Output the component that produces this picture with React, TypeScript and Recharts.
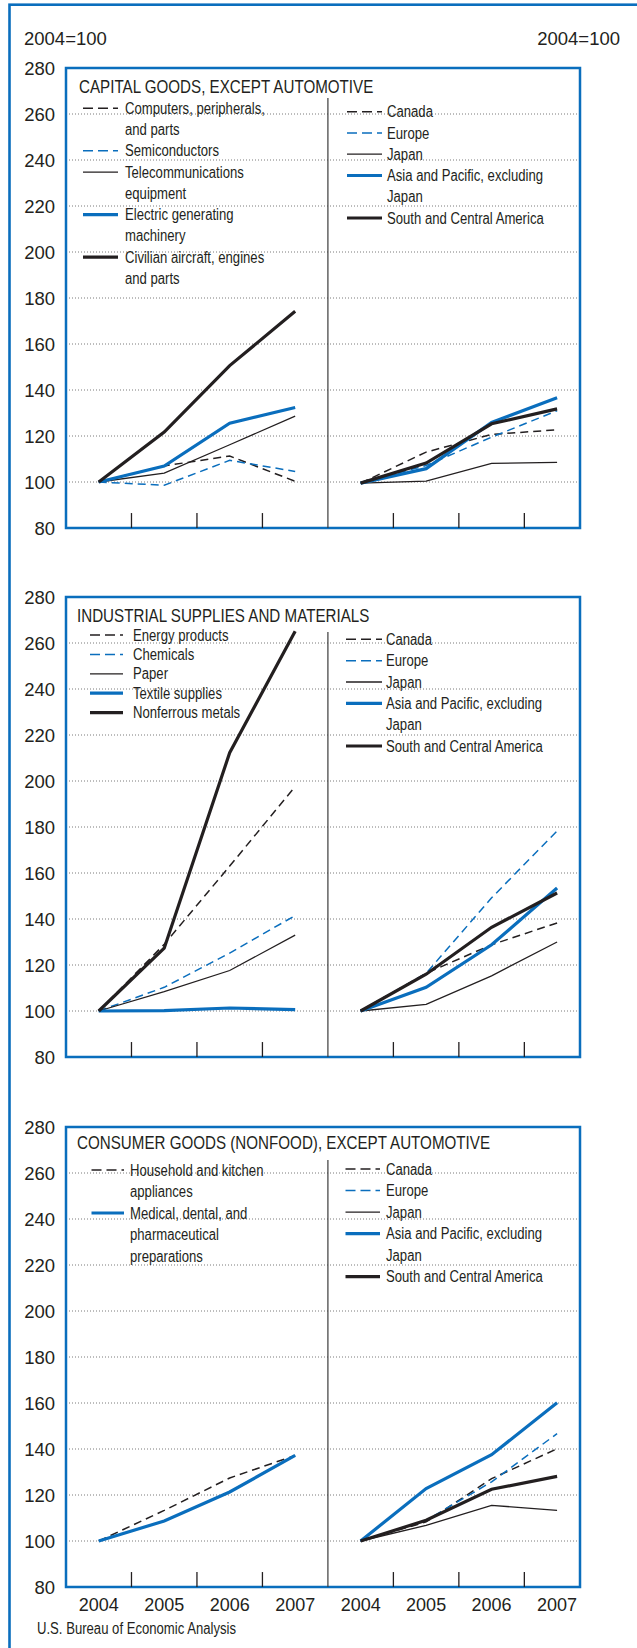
import React from 'react';
import {
  LineChart,
  Line,
  XAxis,
  YAxis,
  CartesianGrid,
  ReferenceArea,
  ReferenceLine,
} from 'recharts';

// ---------- data ----------
const years = ['2004', '2005', '2006', '2007'];
const yTicks = [80, 100, 120, 140, 160, 180, 200, 220, 240, 260, 280];

// Panel 1: Capital goods, except automotive
const capComputers = [100, 107, 111.3, 100.3];
const capSemis = [100, 98.6, 109.4, 104.6];
const capTelecom = [100, 103.9, 116.2, 128.6];
const capElectric = [100, 106.9, 125.6, 132.4];
const capAircraft = [100, 121.7, 150.6, 174.2];
const capCanada = [99.5, 113, 120.7, 122.7];
const capEurope = [99.5, 107.2, 119.5, 131];
const capJapan = [99.5, 100.4, 108.1, 108.5];
const capAsia = [99.5, 105.8, 125.9, 136.6];
const capSouth = [99.5, 108.2, 125.3, 131.8];

// Panel 2: Industrial supplies and materials
const indEnergy = [100, 129, 163, 197.6];
const indChemicals = [100, 110.3, 125.2, 141.5];
const indPaper = [100, 108.4, 117.6, 133];
const indTextile = [100, 100.2, 101.3, 100.6];
const indNonferrous = [100, 127.3, 212.3, 265.1];
const indCanada = [100, 116.4, 128.8, 138.3];
const indEurope = [100, 116.4, 149.2, 178.3];
const indJapan = [100, 102.9, 115.3, 130];
const indAsia = [100, 110.3, 128.8, 153.5];
const indSouth = [100, 116, 136.4, 151.3];

// Panel 3: Consumer goods (nonfood), except automotive
const conHousehold = [100, 113.3, 127.4, 137.2];
const conMedical = [100, 108.7, 121.3, 137.2];
const conCanada = [100, 108.3, 127.1, 140.1];
const conEurope = [100, 109, 125.7, 146.7];
const conJapan = [100, 106.8, 115.5, 113.3];
const conAsia = [100, 122.8, 137.5, 160.1];
const conSouth = [100, 109, 122.5, 128.1];

// ---------- styling ----------
const FONT = '"Liberation Sans", Arial, Helvetica, sans-serif';
const INK = '#231f20';
const BLUE = '#0a6ebd';
const GRID = '#7a7a7a';

type StyleKey = 'dashBlack' | 'dashBlue' | 'thinBlack' | 'thickBlue' | 'thickBlack';
const lineStyles: Record<StyleKey, { stroke: string; width: number; dash?: string }> = {
  dashBlack: { stroke: INK, width: 1.5, dash: '8 5' },
  dashBlue: { stroke: BLUE, width: 1.5, dash: '8 5' },
  thinBlack: { stroke: INK, width: 1.3 },
  thickBlue: { stroke: BLUE, width: 3.2 },
  thickBlack: { stroke: INK, width: 3.2 },
};

type Series = { key: string; label: string[]; style: StyleKey; values: number[] };

const regionLabels: string[][] = [
  ['Canada'],
  ['Europe'],
  ['Japan'],
  ['Asia and Pacific, excluding', 'Japan'],
  ['South and Central America'],
];
const regionStyles: StyleKey[] = ['dashBlack', 'dashBlue', 'thinBlack', 'thickBlue', 'thickBlack'];

const mkRegions = (prefix: string, vals: number[][]): Series[] =>
  vals.map((v, i) => ({ key: `${prefix}R${i}`, label: regionLabels[i], style: regionStyles[i], values: v }));

type Legend = { lx1: number; lx2: number; tx: number; y0: number; step: number };
type Panel = {
  title: string;
  top: number;
  titleX: number;
  titleY: number;
  dividerTop: number;
  left: Series[];
  right: Series[];
  legL: Legend;
  legR: Legend;
  showYears: boolean;
};

const panels: Panel[] = [
  {
    title: 'CAPITAL GOODS, EXCEPT AUTOMOTIVE',
    top: 68,
    titleX: 79,
    titleY: 87,
    dividerTop: 267,
    left: [
      { key: 'c0', label: ['Computers, peripherals,', 'and parts'], style: 'dashBlack', values: capComputers },
      { key: 'c1', label: ['Semiconductors'], style: 'dashBlue', values: capSemis },
      { key: 'c2', label: ['Telecommunications', 'equipment'], style: 'thinBlack', values: capTelecom },
      { key: 'c3', label: ['Electric generating', 'machinery'], style: 'thickBlue', values: capElectric },
      { key: 'c4', label: ['Civilian aircraft, engines', 'and parts'], style: 'thickBlack', values: capAircraft },
    ],
    right: mkRegions('c', [capCanada, capEurope, capJapan, capAsia, capSouth]),
    legL: { lx1: 83, lx2: 118, tx: 125, y0: 108.3, step: 21.25 },
    legR: { lx1: 347, lx2: 382, tx: 387, y0: 111.7, step: 21.26 },
    showYears: false,
  },
  {
    title: 'INDUSTRIAL SUPPLIES AND MATERIALS',
    top: 597,
    titleX: 77,
    titleY: 616,
    dividerTop: 264.8,
    left: [
      { key: 'i0', label: ['Energy products'], style: 'dashBlack', values: indEnergy },
      { key: 'i1', label: ['Chemicals'], style: 'dashBlue', values: indChemicals },
      { key: 'i2', label: ['Paper'], style: 'thinBlack', values: indPaper },
      { key: 'i3', label: ['Textile supplies'], style: 'thickBlue', values: indTextile },
      { key: 'i4', label: ['Nonferrous metals'], style: 'thickBlack', values: indNonferrous },
    ],
    right: mkRegions('i', [indCanada, indEurope, indJapan, indAsia, indSouth]),
    legL: { lx1: 90, lx2: 123, tx: 133, y0: 635, step: 19.4 },
    legR: { lx1: 346, lx2: 382, tx: 386, y0: 639.3, step: 21.34 },
    showYears: false,
  },
  {
    title: 'CONSUMER GOODS (NONFOOD), EXCEPT AUTOMOTIVE',
    top: 1127,
    titleX: 77,
    titleY: 1142.7,
    dividerTop: 265.7,
    left: [
      { key: 'n0', label: ['Household and kitchen', 'appliances'], style: 'dashBlack', values: conHousehold },
      { key: 'n1', label: ['Medical, dental, and', 'pharmaceutical', 'preparations'], style: 'thickBlue', values: conMedical },
    ],
    right: mkRegions('n', [conCanada, conEurope, conJapan, conAsia, conSouth]),
    legL: { lx1: 91.5, lx2: 124, tx: 130, y0: 1170, step: 21.5 },
    legR: { lx1: 345.5, lx2: 380, tx: 386, y0: 1169, step: 21.54 },
    showYears: true,
  },
];

// ---------- geometry ----------
const PLOT_H = 460;
const CHART_TOP_PAD = 40;
const CHART_H = CHART_TOP_PAD + PLOT_H + 60;
const X_DOMAIN: [number, number] = [-0.5, 7.35];
const xTickIdx = [0, 1, 2, 3, 4, 5, 6, 7];
const sepTicks = [0.5, 1.5, 2.5, 4.5, 5.5, 6.5];

const buildRows = (p: Panel) => {
  const rows: Record<string, number | null>[] = [];
  for (let i = 0; i < 8; i++) {
    const row: Record<string, number | null> = { x: i };
    p.left.forEach((s) => (row[s.key] = i < 4 ? s.values[i] : null));
    p.right.forEach((s) => (row[s.key] = i >= 4 ? s.values[i - 4] : null));
    rows.push(row);
  }
  return rows;
};

const axisTick = { fontFamily: FONT, fontSize: 18.5, fill: INK };

const PanelChart = ({ p }: { p: Panel }) => {
  const data = buildRows(p);
  const all = [...p.left, ...p.right];
  return (
    <div style={{ position: 'absolute', left: 0, top: p.top - CHART_TOP_PAD }}>
      <LineChart
        width={637}
        height={CHART_H}
        data={data}
        margin={{ top: CHART_TOP_PAD, right: 7, bottom: 30, left: 16 }}
      >
        <CartesianGrid vertical={false} stroke={GRID} strokeDasharray="1 2" strokeWidth={1} />
        <XAxis
          dataKey="x"
          type="number"
          domain={X_DOMAIN}
          ticks={xTickIdx}
          interval={0}
          allowDataOverflow
          axisLine={false}
          tickLine={false}
          tickSize={0}
          tickMargin={11.5}
          height={30}
          tick={p.showYears ? { fontFamily: FONT, fontSize: 18, fill: INK } : false}
          tickFormatter={(v: number) => years[v % 4]}
        />
        <YAxis
          domain={[80, 280]}
          ticks={yTicks}
          interval={0}
          axisLine={false}
          tickLine={false}
          tickSize={0}
          tickMargin={11}
          width={50}
          tick={axisTick}
        />
        <YAxis
          yAxisId="r"
          orientation="right"
          domain={[80, 280]}
          ticks={yTicks}
          interval={0}
          axisLine={false}
          tickLine={false}
          tickSize={0}
          tickMargin={8}
          width={50}
          tick={axisTick}
        />
        {all.map((s) => {
          const st = lineStyles[s.style];
          return (
            <Line
              key={s.key}
              dataKey={s.key}
              type="linear"
              stroke={st.stroke}
              strokeWidth={st.width}
              strokeDasharray={st.dash}
              dot={false}
              activeDot={false}
              connectNulls={false}
              isAnimationActive={false}
            />
          );
        })}
        {sepTicks.map((t) => (
          <ReferenceLine
            key={`t${t}`}
            segment={[
              { x: t, y: 80 },
              { x: t, y: 86.5 },
            ]}
            stroke={INK}
            strokeWidth={1.3}
          />
        ))}
        <ReferenceLine
          segment={[
            { x: 3.5, y: 80 },
            { x: 3.5, y: p.dividerTop },
          ]}
          stroke="#3a3a3a"
          strokeWidth={1.2}
        />
        <ReferenceArea
          x1={X_DOMAIN[0]}
          x2={X_DOMAIN[1]}
          y1={80}
          y2={280}
          fill="none"
          fillOpacity={0}
          stroke={BLUE}
          strokeWidth={2.5}
          ifOverflow="visible"
        />
      </LineChart>
    </div>
  );
};

const CText = ({
  x,
  y,
  size,
  children,
  sx = 0.82,
}: {
  x: number;
  y: number;
  size: number;
  children: React.ReactNode;
  sx?: number;
}) => (
  <text
    transform={`translate(${x} ${y}) scale(${sx} 1)`}
    x={0}
    y={0}
    dy="0.35em"
    fontFamily={FONT}
    fontSize={size}
    fill={INK}
  >
    {children}
  </text>
);

const LegendBlock = ({ series, leg }: { series: Series[]; leg: Legend }) => {
  let row = 0;
  return (
    <g>
      {series.map((s) => {
        const st = lineStyles[s.style];
        const y = leg.y0 + row * leg.step;
        const el = (
          <g key={s.key}>
            <line
              x1={leg.lx1}
              x2={leg.lx2}
              y1={y}
              y2={y}
              stroke={st.stroke}
              strokeWidth={st.width}
              strokeDasharray={st.dash ? '10 5' : undefined}
            />
            {s.label.map((t, j) => (
              <CText key={j} x={leg.tx} y={y + j * leg.step} size={16}>
                {t}
              </CText>
            ))}
          </g>
        );
        row += s.label.length;
        return el;
      })}
    </g>
  );
};

export default function App() {
  return (
    <div
      style={{
        position: 'absolute',
        left: 0,
        top: 0,
        width: 637,
        height: 1648,
        background: '#ffffff',
        overflow: 'hidden',
      }}
    >
      {panels.map((p) => (
        <PanelChart key={p.title} p={p} />
      ))}
      <svg
        width={637}
        height={1648}
        style={{ position: 'absolute', left: 0, top: 0, pointerEvents: 'none' }}
      >
        <rect x={9.5} y={4.7} width={700} height={1700} fill="none" stroke={BLUE} strokeWidth={2.6} />
        <text x={24} y={38} dy="0.355em" fontFamily={FONT} fontSize={18.5} fill={INK}>
          2004=100
        </text>
        <text x={620} y={38} dy="0.355em" textAnchor="end" fontFamily={FONT} fontSize={18.5} fill={INK}>
          2004=100
        </text>
        {panels.map((p) => (
          <g key={p.title}>
            <CText x={p.titleX} y={p.titleY} size={18.5}>
              {p.title}
            </CText>
            <LegendBlock series={p.left} leg={p.legL} />
            <LegendBlock series={p.right} leg={p.legR} />
          </g>
        ))}
        <CText x={37} y={1628} size={16}>
          U.S. Bureau of Economic Analysis
        </CText>
      </svg>
    </div>
  );
}
